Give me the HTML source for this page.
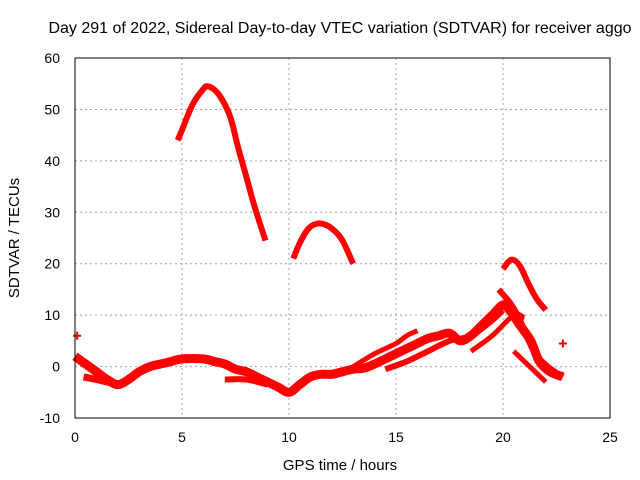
<!DOCTYPE html>
<html><head><meta charset="utf-8"><style>
body{margin:0;background:#fff;}
svg{display:block;font-family:"Liberation Sans",sans-serif;}
</style></head><body>
<svg id="chart" width="640" height="480">
<text x="340" y="33" font-size="16" text-anchor="middle">Day 291 of 2022, Sidereal Day-to-day VTEC variation (SDTVAR) for receiver aggo</text>
<g id="grid"></g>
<g id="series"></g>
<rect x="75" y="58" width="535" height="360" fill="none" stroke="#000"/>
<g id="ticks"></g>
<text x="340" y="470" font-size="15" text-anchor="middle">GPS time / hours</text>
<text x="19" y="238" font-size="15" text-anchor="middle" transform="rotate(-90 19 238)">SDTVAR / TECUs</text>
</svg>
<script>
const xTicks=[0,5,10,15,20,25];
const yTicks=[-10,0,10,20,30,40,50,60];
const arcA_x=[4.8,5.0,5.5,6.0,6.2,6.6,7.0,7.3,7.6,8.0,8.4,8.9];
const arcA_y=[44,46,51,54,54.5,53.5,51,48,43,37,31,24.5];
const arcB_x=[10.2,10.5,10.9,11.3,11.7,12.1,12.5,13.0];
const arcB_y=[21,24,26.8,27.8,27.6,26.5,24.5,20];
const arcC_x=[20.0,20.4,20.8,21.2,21.6,22.0];
const arcC_y=[19,20.8,19.5,16,13,11];
const arcD_x=[19.8,20.4,20.8,21.2,21.6,22.1,22.6,22.8];
const arcD_y=[15,12,9,5,2,0,-1.5,-2];
const lowA_x=[0,0.5,1,1.5,2,2.5,3,3.5,4,4.5,5,6,6.5,7,7.5,8,8.5,9,9.5,10,10.5,11,11.5,12,12.5,13,13.5,14,14.5,15,15.5,16,16.5,17,17.5,18,18.5,19,19.5,20,20.3,20.8,21.3,21.7,22.2,22.8];
const lowA_y=[2,0.5,-1,-2.5,-3.5,-2.5,-1,0,0.5,1,1.5,1.5,1,0.5,-0.5,-1,-2,-3,-4,-5,-3.5,-2,-1.5,-1.5,-1,-0.5,-0.3,0.5,1.5,2.5,3.5,4.5,5.5,6,6.5,5,6,8,10,12,11,8,5,1,-1,-2];
const lowB_x=[0.4,1,1.5,2];
const lowB_y=[-2,-2.5,-3,-3.5];
const lowC_x=[7,8,9];
const lowC_y=[-2.5,-2.5,-3.5];
const midA_x=[13,14,15,15.5,16];
const midA_y=[0,2.5,4.5,6,7];
const midB_x=[14.5,15.5,16.5,17.5,18.5,19.5,20];
const midB_y=[-0.5,1,3,5,6,9,11];
const midC_x=[18.5,19.5,20.5,21];
const midC_y=[3,6,10,9.5];
const midD_x=[20.5,21,21.5,22];
const midD_y=[3,1,-1,-3];
const markX=[0.1,22.8];
const markY=[6,4.5];
const X=v=>75+v*21.4, Y=v=>366.6-v*5.143;
const NS='http://www.w3.org/2000/svg';
function mk(t,a,p){const e=document.createElementNS(NS,t);for(const k in a)e.setAttribute(k,a[k]);p.appendChild(e);return e;}
const grid=document.getElementById('grid'),ticks=document.getElementById('ticks'),ser=document.getElementById('series');
xTicks.forEach(t=>{
 if(t>0&&t<25){const l=mk('line',{x1:X(t),x2:X(t),y1:58,y2:418,stroke:'#a0a0a0','stroke-dasharray':'2,3'},grid);
 
 }
 const tx=mk('text',{x:X(t),y:442,'font-size':14,'text-anchor':'middle'},ticks);tx.textContent=t;
 
 
});
yTicks.forEach(t=>{
 if(t>-10&&t<60){const l=mk('line',{x1:75,x2:610,y1:Y(t),y2:Y(t),stroke:'#a0a0a0','stroke-dasharray':'2,3'},grid);
 
 }
 const tx=mk('text',{x:60,y:Y(t)+5,'font-size':14,'text-anchor':'end'},ticks);tx.textContent=t;
 
 
});
function smooth(xs,ys){
 const P=xs.map((x,i)=>[X(x),Y(ys[i])]);
 let d='M'+P[0][0].toFixed(1)+','+P[0][1].toFixed(1);
 for(let i=0;i<P.length-1;i++){
  const p0=P[Math.max(0,i-1)],p1=P[i],p2=P[i+1],p3=P[Math.min(P.length-1,i+2)];
  const c1=[p1[0]+(p2[0]-p0[0])/6,p1[1]+(p2[1]-p0[1])/6];
  const c2=[p2[0]-(p3[0]-p1[0])/6,p2[1]-(p3[1]-p1[1])/6];
  d+=`C${c1[0].toFixed(1)},${c1[1].toFixed(1)} ${c2[0].toFixed(1)},${c2[1].toFixed(1)} ${p2[0].toFixed(1)},${p2[1].toFixed(1)}`;
 }
 return d;
}
const arcs=[[arcA_x,arcA_y,6],[arcB_x,arcB_y,6],[arcC_x,arcC_y,6],[arcD_x,arcD_y,6],[lowA_x,lowA_y,9],[lowB_x,lowB_y,7],[lowC_x,lowC_y,6],[midA_x,midA_y,5],[midB_x,midB_y,6],[midC_x,midC_y,5],[midD_x,midD_y,5]];
arcs.forEach(([xs,ys,w])=>{
 const p=mk('path',{d:smooth(xs,ys),fill:'none',stroke:'#ff0000','stroke-width':w,'stroke-linejoin':'round'},ser);
 
 
});
markX.forEach((x,i)=>{
 const p=mk('path',{d:`M${X(x)-4},${Y(markY[i])}h8M${X(x)},${Y(markY[i])-4}v8`,stroke:'#ff0000','stroke-width':2},ser);
 
 
});
</script>
</body></html>
